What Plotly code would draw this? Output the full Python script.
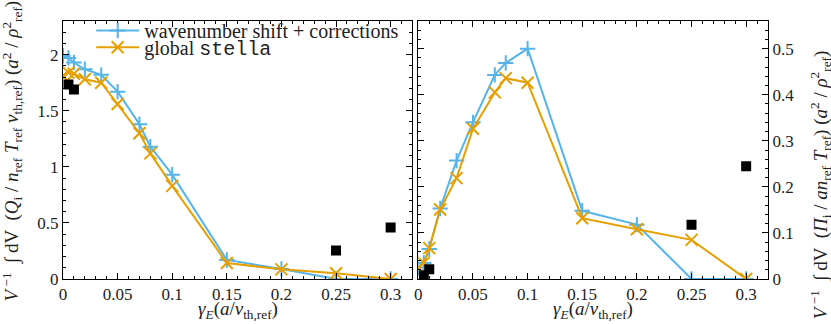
import plotly.graph_objects as go
from plotly.subplots import make_subplots

# shear rate values
gamma_e = [0, 0.005, 0.01, 0.02, 0.035, 0.05, 0.07, 0.08, 0.1, 0.15, 0.2, 0.25, 0.3]

# heat flux
q_shift = [1.99, 1.97, 1.93, 1.87, 1.82, 1.67, 1.38, 1.18, 0.93, 0.17, 0.09, 0.0, 0.0]
q_global = [1.81, 1.84, 1.83, 1.78, 1.75, 1.56, 1.30, 1.12, 0.83, 0.143, 0.086, 0.051, 0.0]

# momentum flux
pi_shift = [0.025, 0.035, 0.065, 0.153, 0.257, 0.34, 0.443, 0.469, 0.5, 0.148, 0.118, 0.0, 0.0]
pi_global = [0.025, 0.035, 0.067, 0.151, 0.219, 0.326, 0.405, 0.436, 0.426, 0.132, 0.108, 0.085, 0.0]

# black reference points
ref_x = [0.005, 0.01, 0.25, 0.3]
ref_q = [1.735, 1.69, 0.255, 0.46]
ref_pi = [0.008, 0.021, 0.118, 0.245]

BLUE = "#56B4E9"
ORANGE = "#E69F00"
FONT = "Liberation Serif"
TXT = "#222"

fig = make_subplots(rows=1, cols=2, horizontal_spacing=0.008)


def add_panel(col, shift, glob, ref, legend):
    fig.add_trace(
        go.Scatter(
            x=gamma_e, y=shift, mode="lines+markers",
            name="wavenumber shift + corrections",
            line=dict(color=BLUE, width=2),
            marker=dict(symbol="cross-thin", size=11, line=dict(color=BLUE, width=2)),
            showlegend=legend, legend="legend",
        ),
        row=1, col=col,
    )
    fig.add_trace(
        go.Scatter(
            x=gamma_e, y=glob, mode="lines+markers",
            name="global <span style='font-family:Liberation Mono'>stella</span>",
            line=dict(color=ORANGE, width=2),
            marker=dict(symbol="x-thin", size=12, line=dict(color=ORANGE, width=2)),
            showlegend=legend, legend="legend2",
        ),
        row=1, col=col,
    )
    fig.add_trace(
        go.Scatter(
            x=ref_x, y=ref, mode="markers",
            marker=dict(symbol="square", size=10, color="black"),
            showlegend=False,
        ),
        row=1, col=col,
    )


add_panel(1, q_shift, q_global, ref_q, True)
add_panel(2, pi_shift, pi_global, ref_pi, False)

axis_style = dict(
    showline=True, linecolor="black", linewidth=1, mirror="allticks",
    ticks="inside", ticklen=6, tickcolor="black", showgrid=False, zeroline=False,
    tickfont=dict(family=FONT, size=17, color=TXT), automargin=False,
)
for col in (1, 2):
    fig.update_xaxes(
        range=[0, 0.32], tick0=0, dtick=0.05,
        minor=dict(dtick=0.01, ticks="inside", ticklen=3, tickcolor="black"),
        row=1, col=col, **axis_style,
    )

fig.update_yaxes(
    range=[0, 2.3], tick0=0, dtick=0.5,
    minor=dict(dtick=0.1, ticks="inside", ticklen=3, tickcolor="black"),
    row=1, col=1, **axis_style,
)
fig.update_yaxes(
    range=[0, 0.56], tick0=0, dtick=0.1, side="right",
    minor=dict(dtick=0.02, ticks="inside", ticklen=3, tickcolor="black"),
    row=1, col=2, **axis_style,
)
fig.update_xaxes(domain=[0, 0.4957], row=1, col=1)
fig.update_xaxes(domain=[0.504, 1], row=1, col=2)

xtitle = "<i>γ<sub>E</sub></i>(<i>a</i>/<i>v</i><sub>th,ref</sub>)"
ytitle_q = ("<i>V</i><sup> −1</sup>  ∫ dV  (<i>Q</i><sub>i</sub> / <i>n</i><sub>ref</sub> <i>T</i><sub>ref</sub> "
            "<i>v</i><sub>th,ref</sub>) (<i>a</i><sup>2</sup> / <i>ρ</i><sup>2</sup><sub>ref</sub>)")
ytitle_pi = ("<i>V</i><sup> −1</sup>  ∫ dV  (<i>Π</i><sub>i</sub> / <i>an</i><sub>ref</sub> <i>T</i><sub>ref</sub>) "
             "(<i>a</i><sup>2</sup> / <i>ρ</i><sup>2</sup><sub>ref</sub>)")
title_font = dict(family=FONT, size=19, color=TXT)
for xc in (0.2478, 0.752):
    fig.add_annotation(
        text=xtitle, xref="paper", yref="paper", x=xc, y=-0.122,
        xanchor="center", yanchor="middle", showarrow=False, font=title_font,
    )
fig.add_annotation(
    text=ytitle_q, xref="paper", yref="paper", x=-0.073, y=-0.095,
    xanchor="center", yanchor="bottom", textangle=-90, showarrow=False, font=title_font,
)
fig.add_annotation(
    text=ytitle_pi, xref="paper", yref="paper", x=1.074, y=-0.165,
    xanchor="center", yanchor="bottom", textangle=-90, showarrow=False, font=title_font,
)

legend_style = dict(
    xanchor="left", yanchor="top", bgcolor="rgba(0,0,0,0)",
    font=dict(family=FONT, size=20, color=TXT), borderwidth=0, itemwidth=43,
)
fig.update_layout(
    width=831, height=324,
    margin=dict(l=63, r=63, t=11, b=45),
    plot_bgcolor="white", paper_bgcolor="white",
    font=dict(family=FONT, size=17, color=TXT),
    legend=dict(x=0.04, y=1.039, **legend_style),
    legend2=dict(x=0.04, y=0.974, **legend_style),
)

fig.write_html(
    "out.html",
    config={"displayModeBar": False},
    post_script="document.body.style.margin='0';",
)
